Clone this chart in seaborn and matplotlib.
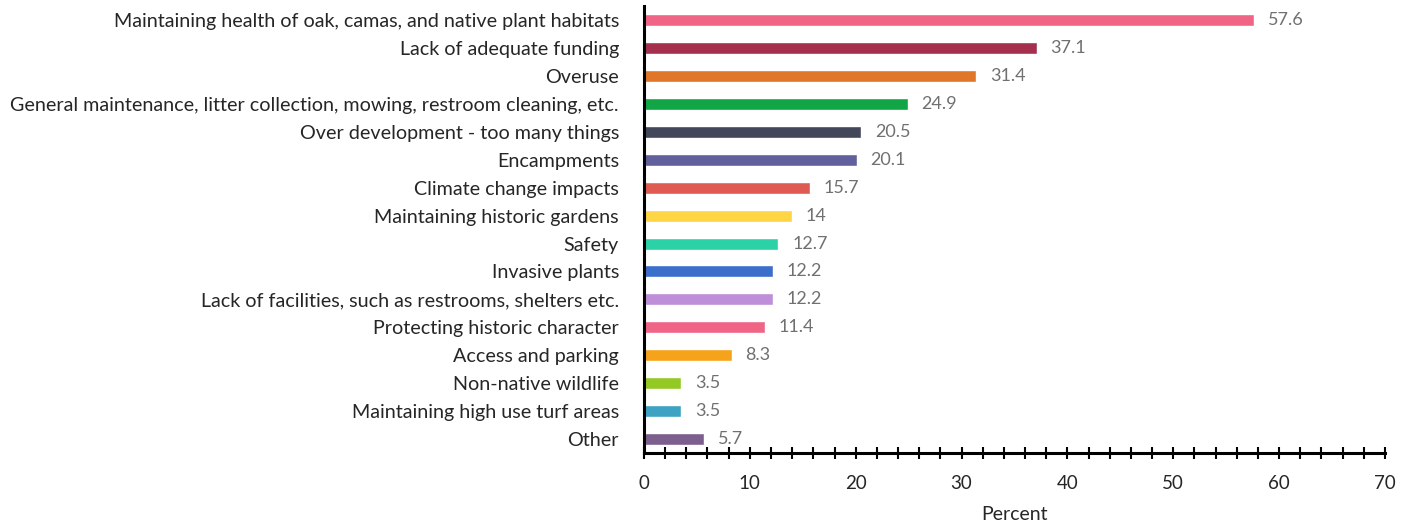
import matplotlib
matplotlib.use("Agg")
import matplotlib.pyplot as plt
import seaborn as sns
import pandas as pd
from matplotlib.ticker import MultipleLocator

# data
issues = [
    "Maintaining health of oak, camas, and native plant habitats",
    "Lack of adequate funding",
    "Overuse",
    "General maintenance, litter collection, mowing, restroom cleaning, etc.",
    "Over development - too many things",
    "Encampments",
    "Climate change impacts",
    "Maintaining historic gardens",
    "Safety",
    "Invasive plants",
    "Lack of facilities, such as restrooms, shelters etc.",
    "Protecting historic character",
    "Access and parking",
    "Non-native wildlife",
    "Maintaining high use turf areas",
    "Other",
]
percent = [57.6, 37.1, 31.4, 24.9, 20.5, 20.1, 15.7, 14, 12.7, 12.2, 12.2, 11.4, 8.3, 3.5, 3.5, 5.7]
value_labels = ["57.6", "37.1", "31.4", "24.9", "20.5", "20.1", "15.7", "14", "12.7",
                "12.2", "12.2", "11.4", "8.3", "3.5", "3.5", "5.7"]
bar_colors = ["#F06585", "#A5304E", "#E0762A", "#12A546", "#424859", "#62609C",
              "#DE5A52", "#FDD545", "#2BD2A6", "#3C6ECC", "#BE8FD8", "#F06585",
              "#F5A31A", "#94C923", "#3EA3C2", "#7D5F8E"]

df = pd.DataFrame({"issue": issues, "percent": percent})

sns.set_style("white")
plt.rcParams["font.family"] = ["Lato", "DejaVu Sans"]

fig = plt.figure(figsize=(14.15, 5.27), dpi=100)
ax = fig.add_axes([0.4551, 0.1404, 0.5237, 0.848])

sns.barplot(data=df, x="percent", y="issue", hue="issue", palette=bar_colors,
            legend=False, width=0.43, saturation=1, ax=ax)

# value labels to the right of each bar
for i, (v, lab) in enumerate(zip(percent, value_labels)):
    ax.text(v + 1.3, i, lab, va="center", ha="left", fontsize=13, color="#707070")

ax.set_xlim(0, 70)
ax.set_ylim(15.5, -0.5)
ax.xaxis.set_major_locator(MultipleLocator(10))
ax.xaxis.set_minor_locator(MultipleLocator(2))
ax.tick_params(axis="x", which="both", bottom=True, direction="inout", length=8,
               width=1.5, color="black", labelsize=13.5, pad=12)
ax.tick_params(axis="y", left=False, length=0, labelsize=14.2, pad=18)

for s in ["top", "right"]:
    ax.spines[s].set_visible(False)
for s in ["left", "bottom"]:
    ax.spines[s].set_linewidth(2.2)
    ax.spines[s].set_color("black")

ax.set_ylabel("")
ax.set_xlabel("Percent", fontsize=14, labelpad=10)

fig.savefig("out.png", dpi=100)
